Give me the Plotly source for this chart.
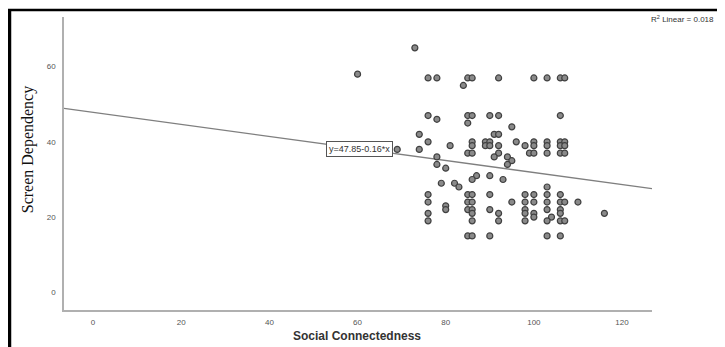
import plotly.graph_objects as go

# Scatter data (Social Connectedness, Screen Dependency)
social_connectedness = [
    73, 60,
    76, 78, 85, 86, 92, 100, 103, 106, 107,
    84,
    76, 85, 86, 90, 92, 106,
    78, 85, 95,
    74, 91, 92,
    76, 86, 89, 90, 96, 100, 103, 106, 107,
    81, 86, 89, 90, 92, 98, 100, 103, 106, 107,
    74, 69,
    85, 86, 92, 99, 100, 103, 106, 107,
    78, 91, 94, 95, 78, 94, 80,
    87, 90, 86, 93, 79, 82, 83, 103,
    76, 85, 86, 90, 98, 100, 103, 106,
    76, 85, 86, 95, 98, 100, 103, 106, 107, 110,
    80,
    80, 85, 86, 90, 98, 103, 106,
    76, 86, 92, 98, 100, 106, 116,
    100, 104,
    76, 86, 92, 98, 103, 106, 107,
    85, 86, 90, 103, 106,
]
screen_dependency = [
    65, 58,
    57, 57, 57, 57, 57, 57, 57, 57, 57,
    55,
    47, 47, 47, 47, 47, 47,
    46, 45, 44,
    42, 42, 42,
    40, 40, 40, 40, 40, 40, 40, 40, 40,
    39, 39, 39, 39, 39, 39, 39, 39, 39, 39,
    38, 38,
    37, 37, 37, 37, 37, 37, 37, 37,
    36, 36, 36, 35, 34, 34, 33,
    31, 31, 30, 30, 29, 29, 28, 28,
    26, 26, 26, 26, 26, 26, 26, 26,
    24, 24, 24, 24, 24, 24, 24, 24, 24, 24,
    23,
    22, 22, 22, 22, 22, 22, 22,
    21, 21, 21, 21, 21, 21, 21,
    20, 20,
    19, 19, 19, 19, 19, 19, 19,
    15, 15, 15, 15, 15,
]

# Fit line coefficients and labels
intercept = 47.85
slope = -0.16
r_squared = 0.018
x_ticks = [0, 20, 40, 60, 80, 100, 120]
y_ticks = [0, 20, 40, 60]
x_range = [-6.6, 126.8]
y_range = [-4.7, 73.2]

fit_x = list(x_range)
fit_y = [intercept + slope * v for v in fit_x]

fig = go.Figure()
fig.add_trace(go.Scatter(
    x=fit_x, y=fit_y, mode="lines",
    line=dict(color="#7f7f7f", width=1.3),
    hoverinfo="skip", showlegend=False,
))
fig.add_trace(go.Scatter(
    x=social_connectedness, y=screen_dependency, mode="markers",
    marker=dict(size=6, color="#8a8a8a", line=dict(color="#404040", width=1.2)),
    showlegend=False,
))

label_x = 60.4
fig.add_annotation(
    x=label_x, y=intercept + slope * label_x, xref="x", yref="y",
    xanchor="center", yanchor="middle",
    text="y=%.2f%.2f*x" % (intercept, slope),
    showarrow=False, bgcolor="white", bordercolor="#555555", borderwidth=1,
    borderpad=2, font=dict(family="Liberation Sans", size=9, color="#333333"),
)
fig.add_annotation(
    x=1.109, y=0.993, xref="paper", yref="paper", xanchor="right", yanchor="middle",
    text="R<sup>2</sup> Linear = %.3f" % r_squared, showarrow=False,
    font=dict(family="Liberation Sans", size=8, color="#333333"),
)
fig.add_annotation(
    x=-0.062, y=0.547, xref="paper", yref="paper", textangle=-90,
    xanchor="center", yanchor="middle",
    text="Screen Dependency", showarrow=False,
    font=dict(family="Liberation Serif", size=16, color="#111111"),
)
fig.add_annotation(
    x=0.498, y=-0.088, xref="paper", yref="paper",
    xanchor="center", yanchor="middle",
    text="<b>Social Connectedness</b>", showarrow=False,
    font=dict(family="Liberation Sans", size=12, color="#333333"),
)

# outer black frame (left and top)
fig.add_shape(type="line", xref="paper", yref="paper",
              x0=-0.0927, x1=-0.0927, y0=1.024, y1=-0.2,
              line=dict(color="black", width=3.5))
fig.add_shape(type="line", xref="paper", yref="paper",
              x0=-0.0957, x1=1.2, y0=1.024, y1=1.024,
              line=dict(color="black", width=2.5))

# page body has an 8px margin, so the figure is shrunk and shifted by 8px
fig.update_layout(
    width=717, height=339,
    margin=dict(l=56, r=73, t=9, b=37),
    paper_bgcolor="white", plot_bgcolor="white",
    font=dict(family="Liberation Sans", size=8, color="#444444"),
)
fig.update_xaxes(
    range=x_range, tickvals=x_ticks, ticktext=[str(v) for v in x_ticks],
    showgrid=False, zeroline=False,
    showline=True, linecolor="#b0b0b0", linewidth=1.6, ticks="",
    ticklabelstandoff=4, tickfont=dict(size=8, color="#555555"),
)
fig.update_yaxes(
    range=y_range, tickvals=y_ticks, showgrid=False, zeroline=False,
    showline=True, linecolor="#b0b0b0", linewidth=1.6, ticks="",
    ticklabelstandoff=5, tickfont=dict(size=8, color="#555555"),
)

fig.write_html("out.html")
